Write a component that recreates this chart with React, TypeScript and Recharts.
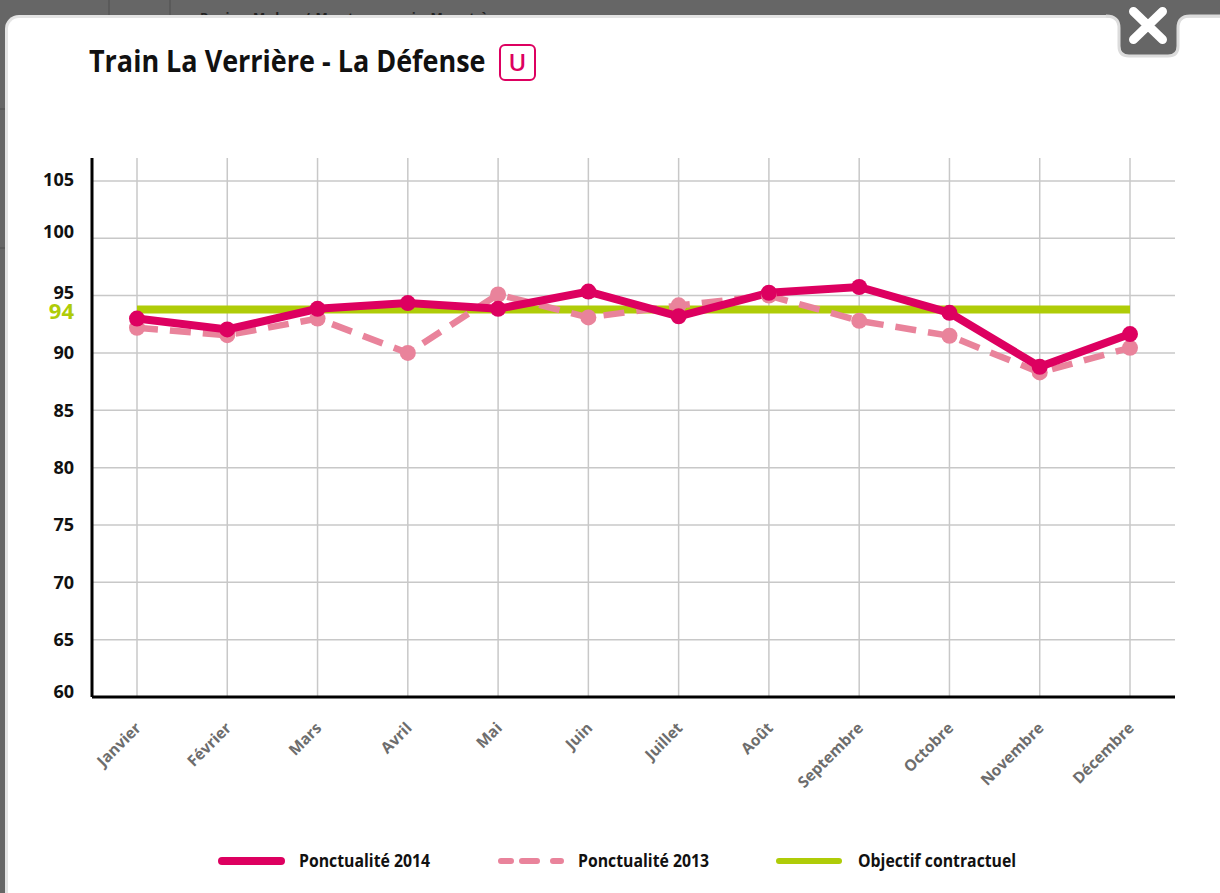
import { CartesianGrid, Legend, Line, LineChart, ReferenceLine, XAxis, YAxis } from 'recharts'

const months = ['Janvier', 'Février', 'Mars', 'Avril', 'Mai', 'Juin', 'Juillet', 'Août', 'Septembre', 'Octobre', 'Novembre', 'Décembre']
const ponctualite2014 = [93.0, 92.05, 93.85, 94.35, 93.85, 95.35, 93.2, 95.25, 95.75, 93.5, 88.8, 91.65]
const ponctualite2013 = [92.2, 91.55, 93.0, 90.0, 95.1, 93.1, 94.15, 95.0, 92.8, 91.5, 88.3, 90.45]
const objectif = [93.8, 93.8, 93.8, 93.8, 93.8, 93.8, 93.8, 93.8, 93.8, 93.8, 93.8, 93.8]
const yTicks = [60, 65, 70, 75, 80, 85, 90, 95, 100, 105]

const data = months.map((mois, i) => ({
  mois,
  p2014: ponctualite2014[i],
  p2013: ponctualite2013[i],
  objectif: objectif[i],
}))

const FONT = '"Open Sans", sans-serif'
const PINK = '#dd0060'
const ROSE = '#e9839b'
const GREEN = '#afcc08'

// les libellés 60, 95 et 100 sont un peu remontés dans l'original
const labelNudge: Record<number, number> = { 60: -6, 95: -3.5, 100: -6.5, 105: -1 }

function YTick({ x, y, payload }: any) {
  return (
    <text x={x} y={y + (labelNudge[payload.value] ?? 0)} dy={6.5} textAnchor="end" fontFamily={FONT} fontSize={18} fontWeight={700} fill="#111">
      {payload.value}
    </text>
  )
}

function XTick({ x, y, payload }: any) {
  return (
    <text
      x={x + 5}
      y={y + 24}
      textAnchor="end"
      fontFamily={FONT}
      fontSize={15.5}
      fontWeight={700}
      fill="#6d6d6d"
      transform={`rotate(-45 ${x + 5} ${y + 24})`}
    >
      {payload.value}
    </text>
  )
}

function LegendRow({ payload }: any) {
  const slots = [
    { x1: 222, x2: 281, tx: 299, w: 8 },
    { x1: 501, x2: 561, tx: 578, w: 6 },
    { x1: 779, x2: 839, tx: 858, w: 6 },
  ]
  // ordre d'affichage : 2014, 2013, objectif
  const items = [...(payload ?? [])].reverse()
  return (
    <svg width={1220} height={40} style={{ display: 'block' }}>
      {items.map((p: any, i: number) => (
        <g key={p.value}>
          <line
            x1={slots[i].x1}
            x2={slots[i].x2}
            y1={20}
            y2={20}
            stroke={p.color}
            strokeWidth={slots[i].w}
            strokeLinecap="round"
            strokeDasharray={i === 1 ? '10 11 15 16 9' : undefined}
          />
          <text transform={`translate(${slots[i].tx} 26) scale(0.93 1)`} fontFamily={FONT} fontSize={17} fontWeight={700} fill="#111">
            {p.value}
          </text>
        </g>
      ))}
    </svg>
  )
}

export default function App() {
  return (
    <div style={{ position: 'fixed', left: 0, top: 0, width: 1220, height: 893, overflow: 'hidden', background: '#666' }}>
      {/* page derrière la fenêtre */}
      <div style={{ position: 'absolute', left: 108, top: 0, width: 2, height: 15, background: '#5a5a5a' }} />
      <div style={{ position: 'absolute', left: 169, top: 0, width: 2, height: 15, background: '#5a5a5a' }} />
      <div style={{ position: 'absolute', left: 0, top: 108, width: 5, height: 2, background: '#5a5a5a' }} />
      <div style={{ position: 'absolute', left: 0, top: 247, width: 5, height: 2, background: '#5a5a5a' }} />
      <div style={{ position: 'absolute', left: 200, top: 8, fontFamily: FONT, fontSize: 13, fontWeight: 700, color: '#222', whiteSpace: 'nowrap', letterSpacing: 1.2 }}>
        Paris - Melun / Montereau via Moret è
      </div>

      {/* fenêtre */}
      <div
        style={{
          position: 'absolute',
          left: 5,
          top: 15,
          width: 1240,
          height: 900,
          background: '#fff',
          borderRadius: 14,
          borderTop: '3px solid #e4e4e4',
          borderLeft: '3px solid #e4e4e4',
          boxSizing: 'border-box',
        }}
      />

      {/* bouton fermer */}
      <svg style={{ position: 'absolute', left: 0, top: 0 }} width={1220} height={70}>
        <path d="M1106 16 Q1119 16 1119 28 L1119 46 Q1119 56 1129 56 L1168 56 Q1178 56 1178 46 L1178 28 Q1178 16 1190 16 L1220 16 L1220 0 L1106 0 Z" fill="#666" />
        <path d="M1106 16 Q1119 16 1119 28 L1119 46 Q1119 56 1129 56 L1168 56 Q1178 56 1178 46 L1178 28 Q1178 16 1190 16 L1220 16" fill="none" stroke="#dcdcdc" strokeWidth={3} />
        <path d="M1133.5 11.5 L1162.5 39.5 M1162.5 11.5 L1133.5 39.5" stroke="#fff" strokeWidth={9} strokeLinecap="round" />
      </svg>

      <div
        style={{
          position: 'absolute',
          left: 89,
          top: 39,
          fontFamily: FONT,
          fontSize: 31,
          fontWeight: 700,
          color: '#111',
          whiteSpace: 'nowrap',
          transform: 'scaleX(0.87)',
          transformOrigin: 'left',
        }}
      >
        Train La Verrière - La Défense
      </div>
      <div
        style={{
          position: 'absolute',
          left: 499,
          top: 44,
          width: 37,
          height: 37,
          boxSizing: 'border-box',
          border: `2.5px solid ${PINK}`,
          borderRadius: 6,
          color: PINK,
          fontFamily: FONT,
          fontSize: 24,
          fontWeight: 600,
          textAlign: 'center',
          lineHeight: '32px',
        }}
      >
        U
      </div>

      <div style={{ position: 'absolute', left: 0, top: 0 }}>
        <LineChart width={1220} height={893} data={data} margin={{ top: 158, right: 45, bottom: 126, left: 0 }}>
          <CartesianGrid stroke="#c8c8c8" strokeWidth={1.5} syncWithTicks />
          <XAxis
            dataKey="mois"
            padding={{ left: 45, right: 45 }}
            interval={0}
            tick={<XTick />}
            tickLine={false}
            axisLine={{ stroke: '#000', strokeWidth: 3 }}
          />
          <YAxis
            width={92}
            domain={[60, 107]}
            ticks={yTicks}
            interval={0}
            tick={<YTick />}
            tickLine={false}
            tickMargin={12}
            axisLine={{ stroke: '#000', strokeWidth: 3 }}
          />
          <ReferenceLine
            y={93.8}
            stroke="none"
            label={{ value: '94', position: 'left', offset: 18, dy: 2, fill: GREEN, fontFamily: FONT, fontSize: 22, fontWeight: 700 }}
          />
          <Legend verticalAlign="bottom" content={<LegendRow />} wrapperStyle={{ left: 0, top: 841, width: 1220 }} />
          <Line
            dataKey="objectif"
            name="Objectif contractuel"
            stroke={GREEN}
            strokeWidth={8}
            dot={false}
            isAnimationActive={false}
          />
          <Line
            dataKey="p2013"
            name="Ponctualité 2013"
            stroke={ROSE}
            strokeWidth={6.5}
            strokeDasharray="21 12"
            dot={{ r: 8, fill: ROSE, stroke: 'none' }}
            isAnimationActive={false}
          />
          <Line
            dataKey="p2014"
            name="Ponctualité 2014"
            stroke={PINK}
            strokeWidth={8}
            dot={{ r: 8, fill: PINK, stroke: 'none' }}
            isAnimationActive={false}
          />
        </LineChart>
      </div>
    </div>
  )
}
